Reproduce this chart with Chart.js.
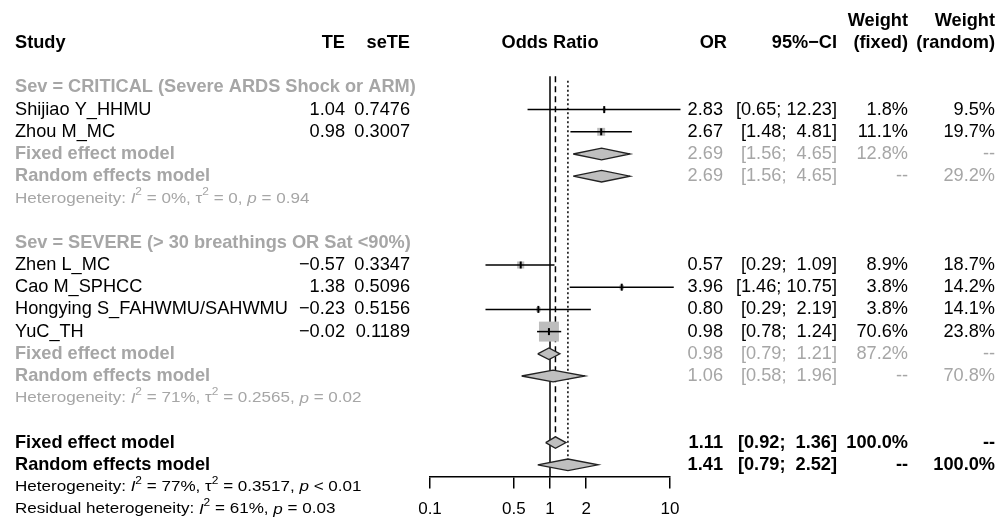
<!DOCTYPE html>
<html>
<head>
<meta charset="utf-8">
<title>Forest plot - odds ratio by severity</title>
<script src="https://cdn.jsdelivr.net/npm/chart.js@4.4.1/dist/chart.umd.min.js"></script>
<style>
  html, body { margin: 0; padding: 0; background: #fff; }
</style>
</head>
<body>
<canvas id="chart" width="1002" height="518"></canvas>
<script>

    // studies
    const studyNames = ['Shijiao Y_HHMU', 'Zhou M_MC', 'Zhen L_MC', 'Cao M_SPHCC', 'Hongying S_FAHWMU/SAHWMU', 'YuC_TH']
    const studyGroup = [0, 0, 1, 1, 1, 1]
    const studyTE = [1.04, 0.98, -0.57, 1.38, -0.23, -0.02]
    const studySeTE = [0.7476, 0.3007, 0.3347, 0.5096, 0.5156, 0.1189]
    const studyOR = [2.83, 2.67, 0.57, 3.96, 0.80, 0.98]
    const studyLow = [0.65, 1.48, 0.29, 1.46, 0.29, 0.78]
    const studyHigh = [12.23, 4.81, 1.09, 10.75, 2.19, 1.24]
    const studyWFixed = [1.8, 11.1, 8.9, 3.8, 3.8, 70.6]
    const studyWRandom = [9.5, 19.7, 18.7, 14.2, 14.1, 23.8]

    // subgroups
    const groupNames = ['Sev = CRITICAL (Severe ARDS Shock or ARM)', 'Sev = SEVERE (> 30 breathings OR Sat <90%)']
    const groupFixedOR = [2.69, 0.98]
    const groupFixedLow = [1.56, 0.79]
    const groupFixedHigh = [4.65, 1.21]
    const groupFixedW = [12.8, 87.2]
    const groupRandomOR = [2.69, 1.06]
    const groupRandomLow = [1.56, 0.58]
    const groupRandomHigh = [4.65, 1.96]
    const groupRandomW = [29.2, 70.8]
    const groupI2 = ['0%', '71%']
    const groupTau2 = ['0', '0.2565']
    const groupP = ['= 0.94', '= 0.02']

    // overall
    const overallFixed = [1.11, 0.92, 1.36]   // OR, low, high
    const overallRandom = [1.41, 0.79, 2.52]
    const overallI2 = '77%'
    const overallTau2 = '0.3517'
    const overallP = '< 0.01'
    const residualI2 = '61%'
    const residualP = '= 0.03'

    const orTicks = [0.1, 0.5, 1, 2, 10]


    const FONT = '"Liberation Sans", Arial, sans-serif'
    const SIZE = 18.2
    const HET_SIZE = 15.5
    const HET_STRETCH = 1.1
    const BLACK = '#000'
    const GRAY = '#a6a6a6'

    // lay out rows: header is row 0, "Weight" line is row -1
    const studyRow = []
    const summaries = []
    const groupRows = []
    let r = 2
    groupNames.forEach((name, gi) => {
        groupRows.push(r++)
        studyNames.forEach((s, i) => { if (studyGroup[i] === gi) studyRow[i] = r++ })
        summaries.push({label: 'Fixed effect model', or: groupFixedOR[gi], lo: groupFixedLow[gi], hi: groupFixedHigh[gi], wF: groupFixedW[gi], wR: null, row: r++, sub: true})
        summaries.push({label: 'Random effects model', or: groupRandomOR[gi], lo: groupRandomLow[gi], hi: groupRandomHigh[gi], wF: null, wR: groupRandomW[gi], row: r++, sub: true, het: gi})
        r++ // heterogeneity line
        r++ // blank
    })
    summaries.push({label: 'Fixed effect model', or: overallFixed[0], lo: overallFixed[1], hi: overallFixed[2], wF: 100, wR: null, row: r++, sub: false})
    summaries.push({label: 'Random effects model', or: overallRandom[0], lo: overallRandom[1], hi: overallRandom[2], wF: null, wR: 100, row: r++, sub: false})
    const overallHetRow = r++
    const residualRow = r++

    const fmtTE = v => (v < 0 ? '\u2212' : '') + Math.abs(v).toFixed(2)
    const fmtCI = (lo, hi) => '[' + lo.toFixed(2) + ';' + (hi < 10 ? '  ' : ' ') + hi.toFixed(2) + ']'
    const fmtW = w => w === null ? '--' : w.toFixed(1) + '%'

    const datasets = []

    // null line and summary lines
    datasets.push({data: [{x: 1, y: 1.5}, {x: 1, y: 19.55}], borderColor: BLACK, borderWidth: 1.5, order: 6})
    datasets.push({data: [{x: overallFixed[0], y: 1.5}, {x: overallFixed[0], y: 18}], borderColor: BLACK, borderWidth: 1.5, borderDash: [6, 4], order: 6})
    datasets.push({data: [{x: overallRandom[0], y: 1.7}, {x: overallRandom[0], y: 19}], borderColor: BLACK, borderWidth: 1.5, borderDash: [2, 2.5], order: 6})

    // squares sized by fixed weight
    datasets.push({
        data: studyOR.map((v, i) => ({x: v, y: studyRow[i]})),
        showLine: false,
        pointStyle: 'rect',
        pointRadius: studyWFixed.map(w => 1.68 * Math.sqrt(w)),
        backgroundColor: '#bdbdbd',
        borderWidth: 0,
        order: 3
    })

    // confidence intervals
    studyOR.forEach((v, i) => {
        datasets.push({data: [{x: studyLow[i], y: studyRow[i]}, {x: studyHigh[i], y: studyRow[i]}], borderColor: BLACK, borderWidth: 1.5, order: 2})
    })

    // point estimate ticks
    datasets.push({
        data: studyOR.map((v, i) => ({x: v, y: studyRow[i]})),
        showLine: false,
        pointStyle: 'line',
        rotation: 90,
        pointRadius: 3.5,
        borderColor: BLACK,
        borderWidth: 2,
        order: 0
    })

    // diamonds
    summaries.forEach(s => {
        datasets.push({
            data: [{x: s.lo, y: s.row}, {x: s.or, y: s.row - 0.26}, {x: s.hi, y: s.row}, {x: s.or, y: s.row + 0.26}, {x: s.lo, y: s.row}],
            fill: 'shape',
            backgroundColor: '#bfbfbf',
            borderColor: '#222',
            borderWidth: 1.3,
            order: 1
        })
    })

    datasets.forEach(d => {
        if (d.showLine === undefined) d.showLine = true
        if (d.pointRadius === undefined) d.pointRadius = 0
        d.clip = false
        d.tension = 0
    })


    function txt(ctx, s, x, y, align, weight, color, size = SIZE) {
        ctx.font = `${weight} ${size}px ${FONT}`
        ctx.fillStyle = color
        ctx.textAlign = align
        ctx.textBaseline = 'middle'
        ctx.fillText(s, x, y)
    }

    // text with italic and superscript parts, slightly stretched
    function rich(ctx, parts, x, y, size, color) {
        ctx.save()
        ctx.translate(x, y)
        ctx.scale(HET_STRETCH, 1)
        ctx.fillStyle = color
        ctx.textAlign = 'left'
        ctx.textBaseline = 'middle'
        let cx = 0
        parts.forEach(([s, st]) => {
            const sz = st === 's' ? size * 0.7 : size
            ctx.font = `${st === 'i' ? 'italic ' : ''}${sz}px ${FONT}`
            ctx.fillText(s, cx, st === 's' ? -size * 0.4 : 0)
            cx += ctx.measureText(s).width
        })
        ctx.restore()
    }

    const hetParts = (lead, i2, tau2, p) => {
        const parts = [[lead, 'n'], ['I', 'i'], ['2', 's'], [' = ' + i2 + ', ', 'n']]
        if (tau2 !== null) parts.push(['\u03c4', 'n'], ['2', 's'], [' = ' + tau2 + ', ', 'n'])
        parts.push(['p', 'i'], [' ' + p, 'n'])
        return parts
    }

    const col = {study: 15, te: 345, se: 410, or: 723, ci: 837, wF: 908, wR: 995}

    const textPlugin = {
        id: 'forestText',
        afterDraw(chart) {
            const ctx = chart.ctx
            const Y = row => chart.scales.y.getPixelForValue(row)
            ctx.save()

            // header
            txt(ctx, 'Weight', col.wF, Y(-1), 'right', 'bold', BLACK)
            txt(ctx, 'Weight', col.wR, Y(-1), 'right', 'bold', BLACK)
            txt(ctx, 'Study', col.study, Y(0), 'left', 'bold', BLACK)
            txt(ctx, 'TE', col.te, Y(0), 'right', 'bold', BLACK)
            txt(ctx, 'seTE', col.se, Y(0), 'right', 'bold', BLACK)
            txt(ctx, 'Odds Ratio', chart.scales.x.getPixelForValue(1), Y(0), 'center', 'bold', BLACK)
            txt(ctx, 'OR', col.or + 4, Y(0), 'right', 'bold', BLACK)
            txt(ctx, '95%\u2212CI', col.ci, Y(0), 'right', 'bold', BLACK)
            txt(ctx, '(fixed)', col.wF, Y(0), 'right', 'bold', BLACK)
            txt(ctx, '(random)', col.wR, Y(0), 'right', 'bold', BLACK)

            groupNames.forEach((g, gi) => {
                txt(ctx, g, col.study, Y(groupRows[gi]), 'left', 'bold', GRAY)
            })

            studyNames.forEach((s, i) => {
                const y = Y(studyRow[i])
                txt(ctx, s, col.study, y, 'left', 'normal', BLACK)
                txt(ctx, fmtTE(studyTE[i]), col.te, y, 'right', 'normal', BLACK)
                txt(ctx, studySeTE[i].toFixed(4), col.se, y, 'right', 'normal', BLACK)
                txt(ctx, studyOR[i].toFixed(2), col.or, y, 'right', 'normal', BLACK)
                txt(ctx, fmtCI(studyLow[i], studyHigh[i]), col.ci, y, 'right', 'normal', BLACK)
                txt(ctx, fmtW(studyWFixed[i]), col.wF, y, 'right', 'normal', BLACK)
                txt(ctx, fmtW(studyWRandom[i]), col.wR, y, 'right', 'normal', BLACK)
            })

            summaries.forEach(s => {
                const y = Y(s.row)
                const c = s.sub ? GRAY : BLACK
                const w = s.sub ? 'normal' : 'bold'
                txt(ctx, s.label, col.study, y, 'left', 'bold', c)
                txt(ctx, s.or.toFixed(2), col.or, y, 'right', w, c)
                txt(ctx, fmtCI(s.lo, s.hi), col.ci, y, 'right', w, c)
                txt(ctx, fmtW(s.wF), col.wF, y, 'right', w, c)
                txt(ctx, fmtW(s.wR), col.wR, y, 'right', w, c)
                if (s.het !== undefined) {
                    rich(ctx, hetParts('Heterogeneity: ', groupI2[s.het], groupTau2[s.het], groupP[s.het]), col.study, Y(s.row + 1), HET_SIZE, GRAY)
                }
            })

            rich(ctx, hetParts('Heterogeneity: ', overallI2, overallTau2, overallP), col.study, Y(overallHetRow), HET_SIZE, BLACK)
            rich(ctx, hetParts('Residual heterogeneity: ', residualI2, null, residualP), col.study, Y(residualRow), HET_SIZE, BLACK)

            ctx.restore()
        }
    }


    new Chart(document.getElementById('chart'), {
        type: 'scatter',
        data: {datasets},
        options: {
            responsive: false,
            animation: false,
            devicePixelRatio: 1,
            layout: {autoPadding: false, padding: {left: 430, right: 332, top: 43, bottom: 8.8}},
            plugins: {legend: {display: false}, tooltip: {enabled: false}},
            scales: {
                x: {
                    type: 'logarithmic',
                    min: orTicks[0],
                    max: orTicks[orTicks.length - 1],
                    position: {y: 19.55},
                    afterBuildTicks: scale => { scale.ticks = orTicks.map(v => ({value: v})) },
                    ticks: {callback: v => String(v), color: BLACK, font: {family: FONT, size: 17}, padding: 11, autoSkip: false, maxRotation: 0},
                    grid: {drawOnChartArea: false, drawTicks: true, tickLength: 11, color: BLACK, lineWidth: 1.5},
                    border: {display: true, color: BLACK, width: 1.5}
                },
                y: {type: 'linear', min: 0, max: 21, reverse: true, display: false}
            }
        },
        plugins: [textPlugin]
    })

</script>
</body>
</html>
